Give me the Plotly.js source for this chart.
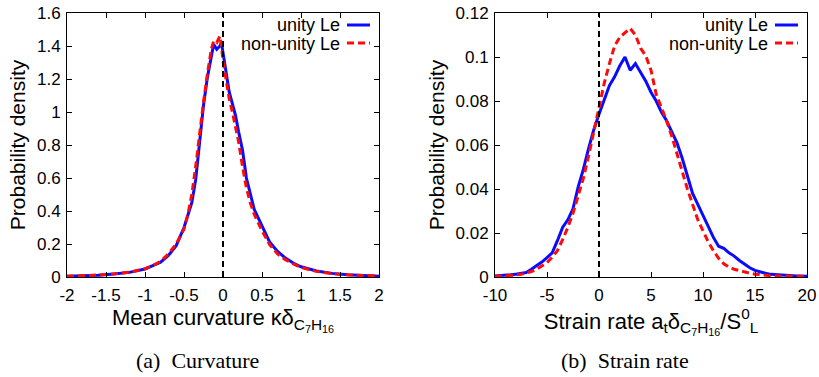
<!DOCTYPE html>
<html>
<head>
<meta charset="utf-8">
<script src="https://cdn.plot.ly/plotly-3.0.1.min.js"></script>
<style>html,body{margin:0;padding:0;background:#fff;}#chart{width:819px;height:377px;}</style>
</head>
<body>
<div id="chart"></div>
<script>
// ---- Data: (a) mean curvature PDF ----
const curvX = [-2, -1.8, -1.6, -1.4, -1.2, -1.0, -0.9, -0.8, -0.7, -0.6, -0.5, -0.45, -0.4, -0.35, -0.3, -0.25, -0.2, -0.15, -0.12, -0.08, -0.04, -0.02, 0, 0.04, 0.08, 0.12, 0.16, 0.2, 0.25, 0.3, 0.35, 0.4, 0.5, 0.6, 0.7, 0.8, 0.9, 1.0, 1.2, 1.4, 1.6, 1.8, 2.0];
const curvUnity = [0.004, 0.007, 0.011, 0.018, 0.028, 0.048, 0.068, 0.09, 0.13, 0.19, 0.30, 0.37, 0.45, 0.59, 0.81, 1.04, 1.21, 1.33, 1.41, 1.38, 1.40, 1.42, 1.36, 1.22, 1.12, 1.05, 0.98, 0.88, 0.77, 0.60, 0.50, 0.41, 0.31, 0.21, 0.155, 0.115, 0.085, 0.062, 0.036, 0.022, 0.014, 0.008, 0.004];
const curvNonUnity = [0.004, 0.007, 0.012, 0.019, 0.029, 0.05, 0.07, 0.095, 0.14, 0.20, 0.29, 0.38, 0.50, 0.67, 0.87, 1.06, 1.23, 1.38, 1.43, 1.42, 1.46, 1.40, 1.31, 1.19, 1.08, 1.0, 0.91, 0.82, 0.67, 0.54, 0.45, 0.38, 0.28, 0.195, 0.14, 0.105, 0.08, 0.058, 0.034, 0.02, 0.013, 0.009, 0.006];

// ---- Data: (b) strain rate PDF ----
const strainX = [-10, -9.5, -9, -8.5, -8, -7.5, -7, -6.5, -6, -5.5, -5, -4.5, -4, -3.5, -3, -2.5, -2, -1.5, -1, -0.5, 0, 0.5, 1, 1.5, 2, 2.5, 3, 3.5, 4, 4.5, 5, 5.5, 6, 6.5, 7, 7.5, 8, 8.5, 9, 9.5, 10, 10.5, 11, 11.5, 12, 12.5, 13, 13.5, 14, 14.5, 15, 15.5, 16, 16.5, 17, 17.5, 18, 18.5, 19, 19.5, 20];
const strainUnity = [0.0005, 0.0006, 0.0008, 0.001, 0.0013, 0.0016, 0.002, 0.0035, 0.005, 0.0068, 0.0088, 0.011, 0.0165, 0.0225, 0.026, 0.031, 0.041, 0.049, 0.0585, 0.067, 0.074, 0.081, 0.087, 0.091, 0.096, 0.100, 0.094, 0.097, 0.093, 0.089, 0.084, 0.080, 0.075, 0.071, 0.066, 0.061, 0.054, 0.046, 0.038, 0.033, 0.028, 0.023, 0.018, 0.014, 0.013, 0.011, 0.0095, 0.0075, 0.0058, 0.0042, 0.003, 0.0022, 0.0017, 0.0012, 0.001, 0.0008, 0.0007, 0.0006, 0.0005, 0.0004, 0.0003];
const strainNonUnity = [0.0003, 0.0004, 0.0005, 0.0007, 0.0009, 0.0012, 0.0017, 0.0025, 0.0035, 0.005, 0.0065, 0.009, 0.012, 0.017, 0.0225, 0.029, 0.037, 0.045, 0.055, 0.066, 0.077, 0.088, 0.097, 0.105, 0.109, 0.111, 0.113, 0.110, 0.104, 0.1005, 0.094, 0.083, 0.077, 0.071, 0.064, 0.056, 0.047, 0.040, 0.033, 0.026, 0.021, 0.016, 0.012, 0.0085, 0.006, 0.0045, 0.0035, 0.0028, 0.0022, 0.0017, 0.0013, 0.001, 0.0008, 0.0006, 0.0005, 0.0004, 0.0003, 0.0003, 0.0002, 0.0002, 0.0002];

// ---- Tick labels ----
const curvTickVals = [-2, -1.5, -1, -0.5, 0, 0.5, 1, 1.5, 2];
const curvTickText = ["-2", "-1.5", "-1", "-0.5", "0", "0.5", "1", "1.5", "2"];
const curvYTickVals = [0, 0.2, 0.4, 0.6, 0.8, 1, 1.2, 1.4, 1.6];
const curvYTickText = ["0", "0.2", "0.4", "0.6", "0.8", "1", "1.2", "1.4", "1.6"];
const strainTickVals = [-10, -5, 0, 5, 10, 15, 20];
const strainTickText = ["-10", "-5", "0", "5", "10", "15", "20"];
const strainYTickVals = [0, 0.02, 0.04, 0.06, 0.08, 0.1, 0.12];
const strainYTickText = ["0", "0.02", "0.04", "0.06", "0.08", "0.1", "0.12"];

const seriesNames = ["unity Le", "non-unity Le"];
const captions = ["(a)\u00a0\u00a0Curvature", "(b)\u00a0\u00a0Strain rate"];

const BLUE = "#0a0aff", RED = "#ff0a0a";
const FONT = "Liberation Sans, Arial, sans-serif";
const SERIF = "Liberation Serif, Times New Roman, serif";
const W = 819, H = 377;
const px = v => v / W, py = v => 1 - v / H;

const lineBlue = {color: BLUE, width: 3};
const lineRed = {color: RED, width: 3, dash: "7px,4px"};

const traces = [
  {x: curvX, y: curvUnity, type: "scatter", mode: "lines", line: lineBlue, xaxis: "x", yaxis: "y", name: seriesNames[0], showlegend: false},
  {x: curvX, y: curvNonUnity, type: "scatter", mode: "lines", line: lineRed, xaxis: "x", yaxis: "y", name: seriesNames[1], showlegend: false},
  {x: strainX, y: strainUnity, type: "scatter", mode: "lines", line: lineBlue, xaxis: "x2", yaxis: "y2", name: seriesNames[0], showlegend: false},
  {x: strainX, y: strainNonUnity, type: "scatter", mode: "lines", line: lineRed, xaxis: "x2", yaxis: "y2", name: seriesNames[1], showlegend: false}
];

function axisCommon(isX) {
  return {
    showline: true, linecolor: "#000", linewidth: 1, mirror: "allticks",
    ticks: "inside", ticklen: 5, tickwidth: 1, tickcolor: "#000",
    showgrid: false, zeroline: false, automargin: false, fixedrange: true,
    ticklabelstandoff: isX ? 3 : 2,
    tickfont: {family: FONT, size: 17, color: "#000"}
  };
}
const yDom = [1 - 277 / H, 1 - 13 / H];
const titleFont = {family: FONT, size: 22, color: "#000"};

const layout = {
  width: W, height: H,
  margin: {l: 0, r: 0, t: 0, b: 0},
  paper_bgcolor: "#fff", plot_bgcolor: "#fff",
  showlegend: false,
  font: {family: FONT, color: "#000"},
  xaxis: Object.assign(axisCommon(true), {
    domain: [67 / W, 379 / W], range: [-2, 2], anchor: "y",
    tickmode: "array", tickvals: curvTickVals, ticktext: curvTickText,
    title: {text: "Mean curvature κδ<sub>C<sub>7</sub>H<sub>16</sub></sub>", font: titleFont, standoff: 5}
  }),
  yaxis: Object.assign(axisCommon(false), {
    domain: yDom, range: [0, 1.6], anchor: "x",
    tickmode: "array", tickvals: curvYTickVals, ticktext: curvYTickText,
    title: {text: "Probability density", font: {family: FONT, size: 21, color: "#000"}, standoff: 5}
  }),
  xaxis2: Object.assign(axisCommon(true), {
    domain: [495 / W, 807 / W], range: [-10, 20], anchor: "y2",
    tickmode: "array", tickvals: strainTickVals, ticktext: strainTickText,
    title: {text: "Strain rate a<sub>t</sub>δ<sub>C<sub>7</sub>H<sub>16</sub></sub>/S<sup>0</sup><sub>L</sub>", font: titleFont, standoff: 5}
  }),
  yaxis2: Object.assign(axisCommon(false), {
    domain: yDom, range: [0, 0.12], anchor: "x2",
    tickmode: "array", tickvals: strainYTickVals, ticktext: strainYTickText,
    title: {text: "Probability density", font: {family: FONT, size: 21, color: "#000"}, standoff: 5}
  }),
  shapes: [
    {type: "line", xref: "x", yref: "y", x0: 0, x1: 0, y0: 0, y1: 1.6, line: {color: "#000", width: 2, dash: "6px,4px"}, layer: "above"},
    {type: "line", xref: "x2", yref: "y2", x0: 0, x1: 0, y0: 0, y1: 0.12, line: {color: "#000", width: 2, dash: "6px,4px"}, layer: "above"},
    // legend samples (a)
    {type: "line", xref: "paper", yref: "paper", x0: px(347), x1: px(370), y0: py(25), y1: py(25), line: {color: BLUE, width: 3}},
    {type: "line", xref: "paper", yref: "paper", x0: px(347), x1: px(370), y0: py(43), y1: py(43), line: {color: RED, width: 3, dash: "7px,4px"}},
    // legend samples (b)
    {type: "line", xref: "paper", yref: "paper", x0: px(775), x1: px(798), y0: py(25), y1: py(25), line: {color: BLUE, width: 3}},
    {type: "line", xref: "paper", yref: "paper", x0: px(775), x1: px(798), y0: py(43), y1: py(43), line: {color: RED, width: 3, dash: "7px,4px"}}
  ],
  annotations: [
    {xref: "paper", yref: "paper", x: px(342), y: py(24.5), xanchor: "right", yanchor: "middle", showarrow: false, text: seriesNames[0], font: {family: FONT, size: 18, color: "#000"}},
    {xref: "paper", yref: "paper", x: px(342), y: py(43.5), xanchor: "right", yanchor: "middle", showarrow: false, text: seriesNames[1], font: {family: FONT, size: 18, color: "#000"}},
    {xref: "paper", yref: "paper", x: px(770), y: py(24.5), xanchor: "right", yanchor: "middle", showarrow: false, text: seriesNames[0], font: {family: FONT, size: 18, color: "#000"}},
    {xref: "paper", yref: "paper", x: px(770), y: py(43.5), xanchor: "right", yanchor: "middle", showarrow: false, text: seriesNames[1], font: {family: FONT, size: 18, color: "#000"}},
    {xref: "paper", yref: "paper", x: px(197), y: py(360), xanchor: "center", yanchor: "middle", showarrow: false, text: captions[0], font: {family: SERIF, size: 22, color: "#000"}},
    {xref: "paper", yref: "paper", x: px(625), y: py(360), xanchor: "center", yanchor: "middle", showarrow: false, text: captions[1], font: {family: SERIF, size: 22, color: "#000"}}
  ]
};

Plotly.newPlot("chart", traces, layout, {staticPlot: true, displayModeBar: false});
</script>
</body>
</html>
